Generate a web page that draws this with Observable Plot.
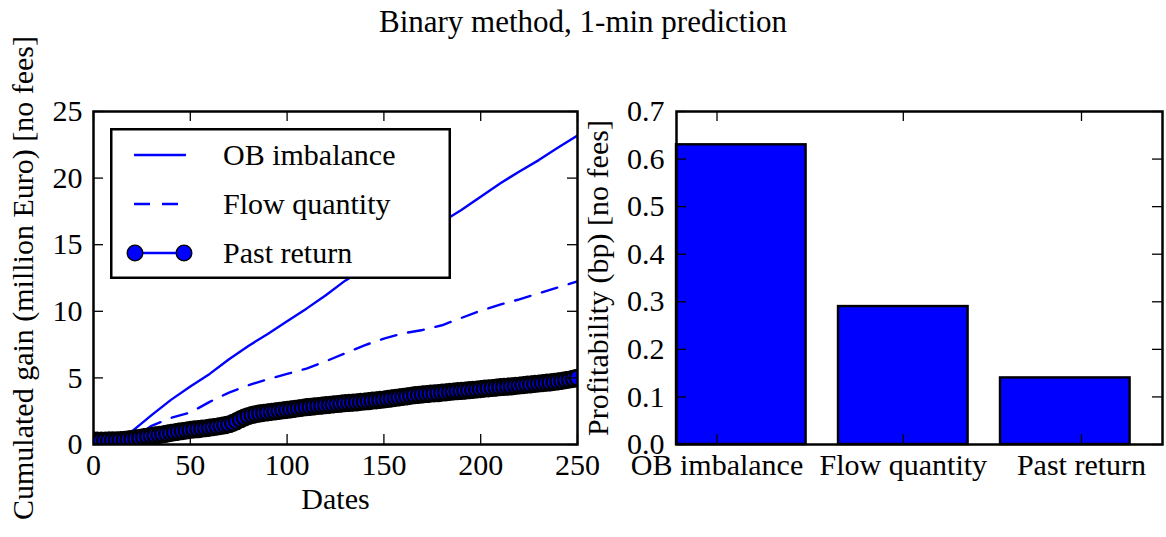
<!DOCTYPE html>
<html>
<head>
<meta charset="utf-8">
<script src="https://cdn.jsdelivr.net/npm/d3@7"></script>
<script src="https://cdn.jsdelivr.net/npm/@observablehq/plot@0.6"></script>
<style>
html, body { margin: 0; padding: 0; background: #fff; }
#fig { position: relative; width: 1166px; height: 537px; overflow: hidden; font-family: "Liberation Serif", serif; color: #000; }
#title { position: absolute; left: 0; top: 6px; width: 1166px; text-align: center; font-size: 31px; line-height: 1; }
.panel { position: absolute; top: 0; }
</style>
</head>
<body>
<div id="fig"><div id="title">Binary method, 1-min prediction</div></div>
<script>
// ---------- data ----------
const seriesNames = ["OB imbalance", "Flow quantity", "Past return"];
const lineDates = [0, 10, 20, 30, 40, 50, 60, 70, 80, 90, 100, 110, 120, 130, 140, 150, 160, 170, 180, 190, 200, 210, 220, 230, 240, 250];
const obImbalance = [0.35, 0.35, 1.0, 2.2, 3.35, 4.35, 5.3, 6.4, 7.4, 8.3, 9.25, 10.2, 11.2, 12.3, 13.2, 14.1, 15.0, 15.9, 16.7, 17.6, 18.6, 19.6, 20.5, 21.35, 22.3, 23.2];
const flowQuantity = [0.3, 0.3, 0.4, 1.4, 2.0, 2.4, 3.2, 3.9, 4.45, 4.9, 5.3, 5.7, 6.25, 6.85, 7.45, 7.95, 8.35, 8.6, 8.95, 9.5, 10.05, 10.5, 10.9, 11.35, 11.8, 12.25];
const pastReturnDates = d3.range(0, 251, 2);
const pastReturn = [
  0.30,0.30,0.30,0.30,0.31,0.31,0.32,0.33,0.35,0.38,
  0.42,0.46,0.50,0.55,0.60,0.64,0.68,0.72,0.77,0.82,
  0.87,0.92,0.97,1.01,1.05,1.10,1.13,1.16,1.19,1.22,
  1.26,1.30,1.35,1.40,1.46,1.52,1.62,1.75,1.90,2.03,
  2.14,2.22,2.28,2.33,2.37,2.41,2.45,2.49,2.53,2.57,
  2.60,2.64,2.68,2.72,2.76,2.80,2.83,2.86,2.89,2.92,
  2.95,2.98,3.01,3.04,3.07,3.10,3.12,3.15,3.17,3.20,
  3.23,3.26,3.29,3.32,3.35,3.38,3.42,3.46,3.50,3.54,
  3.58,3.62,3.66,3.70,3.73,3.76,3.79,3.82,3.84,3.86,
  3.89,3.92,3.95,3.98,4.00,4.02,4.05,4.08,4.10,4.13,
  4.16,4.19,4.22,4.24,4.27,4.30,4.32,4.35,4.37,4.40,
  4.43,4.46,4.49,4.52,4.55,4.58,4.61,4.64,4.67,4.70,
  4.74,4.78,4.83,4.88,4.94,5.00
];
const leftXTicks = [0, 50, 100, 150, 200, 250];
const leftYTicks = [0, 5, 10, 15, 20, 25];
const barCategories = ["OB imbalance", "Flow quantity", "Past return"];
const profitability = [0.63, 0.29, 0.14];
const barTickPositions = [0.25, 1.4, 2.5];
const rightYTicks = [0, 0.1, 0.2, 0.3, 0.4, 0.5, 0.6, 0.7];
const leftYLabel = "Cumulated gain (million Euro) [no fees]";
const rightYLabel = "Profitability (bp) [no fees]";
const xLabel = "Dates";

// ---------- styling ----------
const BLUE = "#0000ff";
const H = 537, mT = 111, mB = 93;
const fh = H - mT - mB;
const tickLen = 10;
const FONT = { fontFamily: '"Liberation Serif", serif', fontSize: "30px", background: "transparent", overflow: "visible" };

const fig = document.getElementById("fig");

// ---------- left panel ----------
const W1 = 600, mL1 = 93, mR1 = 23;
const fw1 = W1 - mL1 - mR1;
const obData = lineDates.map((d, i) => ({ date: d, value: obImbalance[i] }));
const flowData = lineDates.map((d, i) => ({ date: d, value: flowQuantity[i] }));
const prData = pastReturnDates.map((d, i) => ({ date: d, value: pastReturn[i] }));

const left = Plot.plot({
  width: W1, height: H,
  marginTop: mT, marginBottom: mB, marginLeft: mL1, marginRight: mR1,
  style: FONT,
  x: { domain: [0, 250] },
  y: { domain: [0, 25] },
  marks: [
    Plot.line(obData, { x: "date", y: "value", stroke: BLUE, strokeWidth: 2.4, clip: true }),
    Plot.line(flowData, { x: "date", y: "value", stroke: BLUE, strokeWidth: 2.4, strokeDasharray: "16,12", clip: true }),
    Plot.line(prData, { x: "date", y: "value", stroke: BLUE, strokeWidth: 2.4, clip: true }),
    Plot.dot(prData, { x: "date", y: "value", r: 7.8, fill: BLUE, stroke: "black", strokeWidth: 2.6, clip: true }),
    Plot.tickX(leftXTicks, { x: d => d, insetTop: fh - tickLen, stroke: "black", strokeWidth: 1.3 }),
    Plot.tickX(leftXTicks, { x: d => d, insetBottom: fh - tickLen, stroke: "black", strokeWidth: 1.3 }),
    Plot.tickY(leftYTicks, { y: d => d, insetRight: fw1 - tickLen, stroke: "black", strokeWidth: 1.3 }),
    Plot.tickY(leftYTicks, { y: d => d, insetLeft: fw1 - tickLen, stroke: "black", strokeWidth: 1.3 }),
    Plot.axisX({ ticks: leftXTicks, tickSize: 0, tickPadding: 9, label: null }),
    Plot.axisY({ ticks: leftYTicks, tickSize: 0, tickPadding: 11, label: null }),
    Plot.text([leftYLabel], { frameAnchor: "left", text: d => d, rotate: -90, textAnchor: "middle", dx: -70.6, lineAnchor: "middle" }),
    Plot.text([xLabel], { frameAnchor: "bottom", text: d => d, textAnchor: "middle", dy: 54.4, lineAnchor: "middle" }),
    Plot.frame({ stroke: "black", strokeWidth: 2.5 })
  ]
});
left.classList.add("panel");
left.style.left = "0px";
fig.appendChild(left);

// ---------- legend (inside left panel) ----------
const lg = d3.select(fig).append("svg")
  .attr("width", 341).attr("height", 151)
  .style("position", "absolute").style("left", "110px").style("top", "128px")
  .style("font-family", '"Liberation Serif", serif').style("font-size", "30px");
lg.append("rect").attr("x", 1.25).attr("y", 1.25).attr("width", 338.5).attr("height", 148.5)
  .attr("fill", "white").attr("stroke", "black").attr("stroke-width", 2.5);
const rowY = [27, 76, 125];
seriesNames.forEach((name, i) => {
  const y = rowY[i];
  const ln = lg.append("line").attr("x1", 24).attr("x2", 76).attr("y1", y).attr("y2", y)
    .attr("stroke", BLUE).attr("stroke-width", 2.4);
  if (i === 1) ln.attr("stroke-dasharray", "16,12");
  if (i === 2) {
    [25, 74].forEach(cx => lg.append("circle").attr("cx", cx).attr("cy", y).attr("r", 7.8)
      .attr("fill", BLUE).attr("stroke", "black").attr("stroke-width", 1.3));
  }
  lg.append("text").attr("x", 113).attr("y", y + 10).text(name);
});

// ---------- right panel ----------
const W2 = 600, LEFT2 = 566, mL2 = 676 - LEFT2, mR2 = LEFT2 + W2 - 1162;
const fw2 = W2 - mL2 - mR2;
const barWidth = 0.8;
const right = Plot.plot({
  width: W2, height: H,
  marginTop: mT, marginBottom: mB, marginLeft: mL2, marginRight: mR2,
  style: FONT,
  x: { domain: [0, 3] },
  y: { domain: [0, 0.7] },
  marks: [
    Plot.rectY(barCategories, { x1: (d, i) => i, x2: (d, i) => i + barWidth, y1: 0, y2: (d, i) => profitability[i], fill: BLUE, stroke: "black", strokeWidth: 2.4 }),
    Plot.tickX(barTickPositions, { x: d => d, insetTop: fh - tickLen, stroke: "black", strokeWidth: 1.3 }),
    Plot.tickX(barTickPositions, { x: d => d, insetBottom: fh - tickLen, stroke: "black", strokeWidth: 1.3 }),
    Plot.tickY(rightYTicks, { y: d => d, insetRight: fw2 - tickLen, stroke: "black", strokeWidth: 1.3 }),
    Plot.tickY(rightYTicks, { y: d => d, insetLeft: fw2 - tickLen, stroke: "black", strokeWidth: 1.3 }),
    Plot.axisX({ ticks: barTickPositions, tickFormat: (d, i) => barCategories[i], tickSize: 0, tickPadding: 9, label: null }),
    Plot.axisY({ ticks: rightYTicks, tickFormat: d3.format(".1f"), tickSize: 0, tickPadding: 12, label: null }),
    Plot.text([rightYLabel], { frameAnchor: "left", text: d => d, rotate: -90, textAnchor: "middle", dx: -78.6, lineAnchor: "middle" }),
    Plot.frame({ stroke: "black", strokeWidth: 2.5 })
  ]
});
right.classList.add("panel");
right.style.left = LEFT2 + "px";
fig.appendChild(right);
</script>
</body>
</html>
